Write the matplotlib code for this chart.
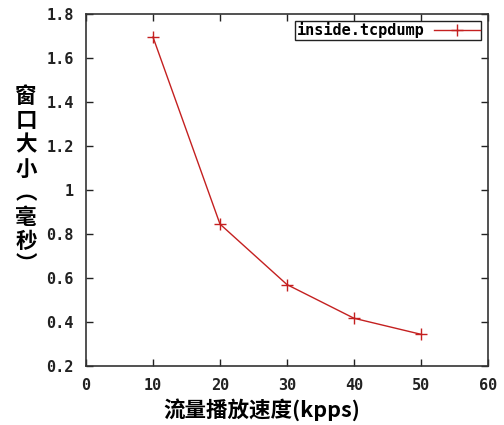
import matplotlib
matplotlib.use("Agg")
import matplotlib.pyplot as plt
from matplotlib.font_manager import FontProperties

x = [10, 20, 30, 40, 50]
y = [1.695, 0.845, 0.57, 0.417, 0.344]
series_name = "inside.tcpdump"
xticks = [0, 10, 20, 30, 40, 50, 60]
yticks = [0.2, 0.4, 0.6, 0.8, 1.0, 1.2, 1.4, 1.6, 1.8]
ytick_labels = ["0.2", "0.4", "0.6", "0.8", "1", "1.2", "1.4", "1.6", "1.8"]
xlabel = "流量播放速度(kpps)"
ylabel_chars = ["窗", "口", "大", "小", "︵", "毫", "秒", "︶"]

fig = plt.figure(figsize=(5.04, 4.25), dpi=100)
ax = fig.add_axes([86/504, 1 - 366/425, (488-86)/504, (366-14)/425])

ax.plot(x, y, color="#c42020", lw=1.0, marker="+", markersize=9, mew=1.0, label=series_name)
ax.set_xlim(0, 60)
ax.set_ylim(0.2, 1.8)
ax.set_xticks(xticks)
ax.set_yticks(yticks)
ax.set_yticklabels(ytick_labels)
mono = FontProperties(family="DejaVu Sans Mono", weight="bold", size=11)
for lab in ax.get_xticklabels() + ax.get_yticklabels():
    lab.set_fontproperties(mono)
ax.tick_params(direction="in", top=True, right=True, length=5, width=1, pad=9, colors="#222222")
for s in ax.spines.values():
    s.set_linewidth(1.2)
    s.set_color("#333333")

leg = ax.legend(loc="upper right", markerfirst=False, frameon=True, fancybox=False,
                prop=FontProperties(family="DejaVu Sans Mono", weight="bold", size=11),
                borderpad=0.1, handlelength=3.0, handletextpad=0.6, borderaxespad=0.45, framealpha=1)
leg.get_frame().set_edgecolor("#222222")
leg.get_frame().set_linewidth(1.0)

fig.text(262/504, 1 - 410/425, xlabel, ha="center", va="center",
         family=["Noto Sans CJK SC", "DejaVu Sans"], weight="bold", fontsize=15.5)
fig.text(26/504, 1 - 181/425, "\n".join(ylabel_chars), ha="center", va="center",
         family=["Noto Sans CJK SC", "DejaVu Sans"], weight="bold", fontsize=15.5, linespacing=1.18)

fig.savefig("out.png", dpi=100)
